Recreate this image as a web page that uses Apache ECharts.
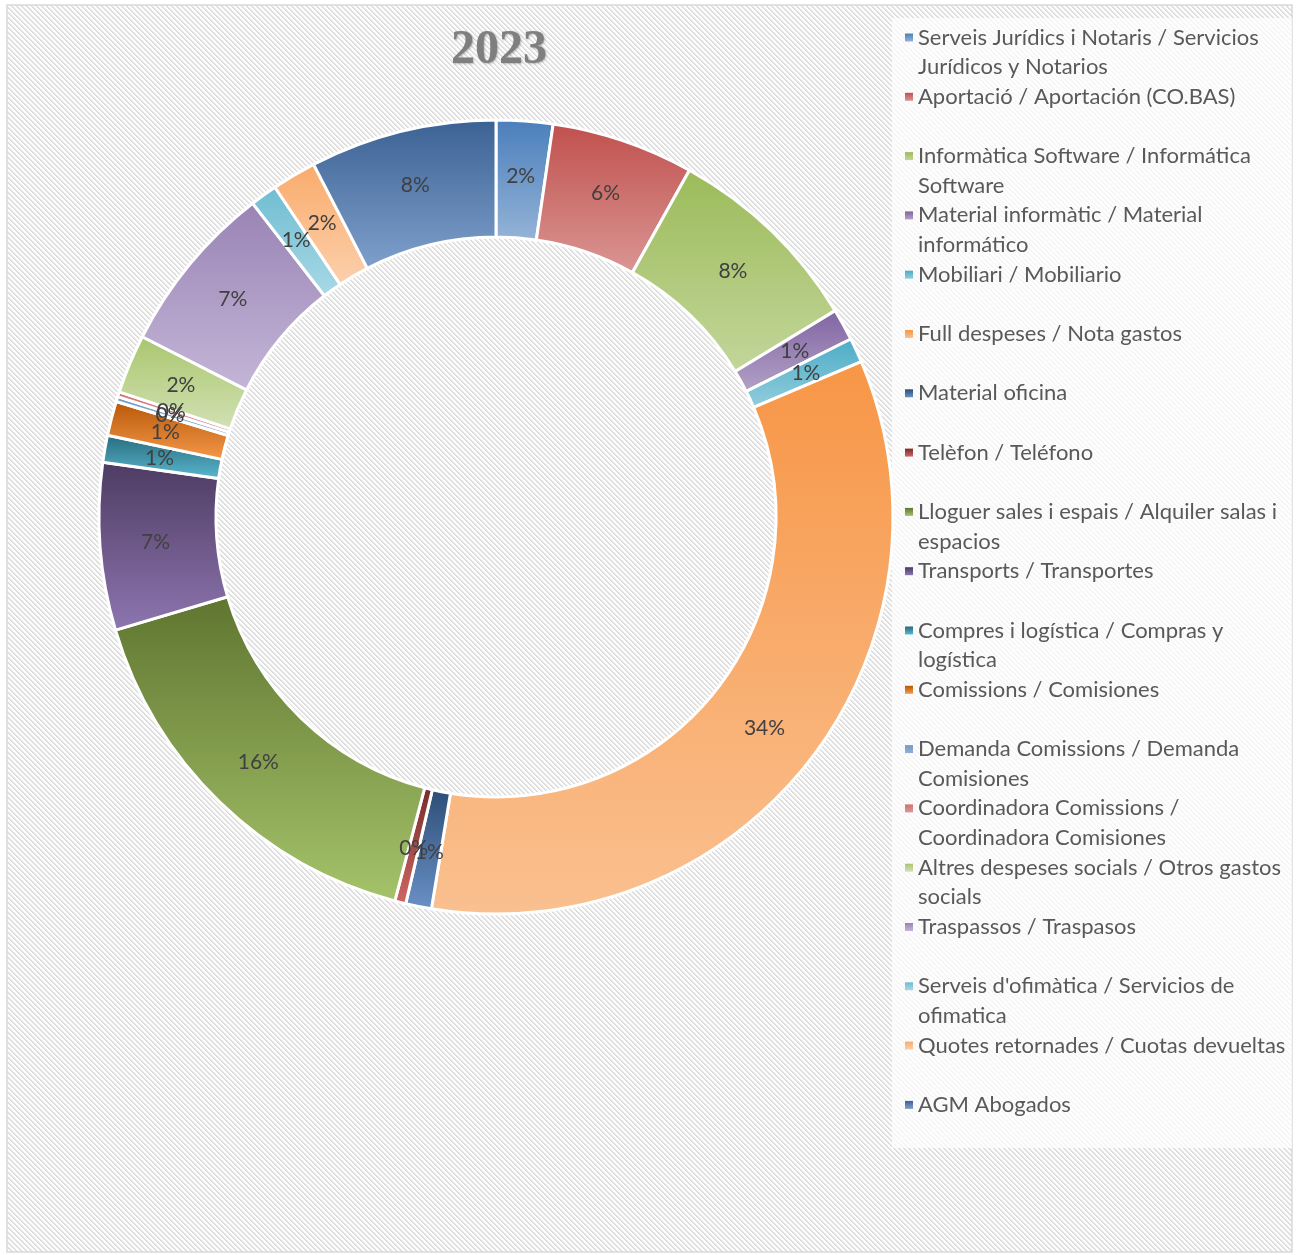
<!DOCTYPE html>
<html>
<head>
<meta charset="utf-8">
<script src="https://cdn.jsdelivr.net/npm/echarts@6/dist/echarts.min.js"></script>
<style>
  html, body { margin: 0; padding: 0; background: #fff; }
  #main { width: 1298px; height: 1255px; }
</style>
</head>
<body>
<div id="main"></div>
<script>
// categories (line breaks as in the legend)
var categories = [
  'Serveis Jurídics i Notaris / Servicios\nJurídicos y Notarios',
  'Aportació / Aportación (CO.BAS)',
  'Informàtica Software / Informática\nSoftware',
  'Material informàtic / Material\ninformático',
  'Mobiliari / Mobiliario',
  'Full despeses / Nota gastos',
  'Material oficina',
  'Telèfon / Teléfono',
  'Lloguer sales i espais / Alquiler salas i\nespacios',
  'Transports / Transportes',
  'Compres i logística / Compras y\nlogística',
  'Comissions / Comisiones',
  'Demanda Comissions / Demanda\nComisiones',
  'Coordinadora Comissions /\nCoordinadora Comisiones',
  'Altres despeses socials / Otros gastos\nsocials',
  'Traspassos / Traspasos',
  "Serveis d'ofimàtica / Servicios de\nofimatica",
  'Quotes retornades / Cuotas devueltas',
  'AGM Abogados'
];
// share of 2023 spending, in %
var values = [2.3, 5.8, 8.2, 1.3, 1.0, 34.0, 1.05, 0.45, 16.3, 6.8, 1.1, 1.4, 0.2, 0.2, 2.4, 7.0, 1.1, 1.8, 7.6];

// gradient colours, top -> bottom
var palette = [
  ['#4a7ebb', '#95b3d7'], ['#c0504d', '#da9694'], ['#9bbb59', '#c3d69b'],
  ['#8064a2', '#b3a2c7'], ['#4bacc6', '#93cddd'], ['#f79646', '#fac090'],
  ['#2c4d75', '#6a91c8'], ['#772c2a', '#d06664'], ['#5f7530', '#a5c36a'],
  ['#4d3b62', '#8e76b0'], ['#276a7c', '#5bb8cf'], ['#b65708', '#f7994a'],
  ['#729aca', '#8fb0d8'], ['#cd7371', '#dd9897'], ['#a9c66d', '#d2e1b5'],
  ['#9983b5', '#c4b6d7'], ['#6fbdd1', '#a9d9e6'], ['#f9ab6b', '#fcd0ad'],
  ['#3b6193', '#7fa0cc']
];

// hatch pattern for the chart area
var pat = document.createElement('canvas');
pat.width = 5; pat.height = 5;
var ctx = pat.getContext('2d');
ctx.fillStyle = '#ffffff';
ctx.fillRect(0, 0, 5, 5);
for (var y = 0; y < 5; y++) {
  ctx.fillStyle = '#d9d9d9';
  ctx.fillRect(y % 5, y, 1, 1);
  ctx.fillStyle = '#e4e4e4';
  ctx.fillRect((y + 1) % 5, y, 1, 1);
  ctx.fillStyle = '#f4f4f4';
  ctx.fillRect((y + 2) % 5, y, 1, 1);
}

var pieData = categories.map(function (name, i) {
  return {
    name: name,
    value: values[i],
    itemStyle: {
      color: new echarts.graphic.LinearGradient(0, 0, 0, 1, [
        { offset: 0, color: palette[i][0] },
        { offset: 1, color: palette[i][1] }
      ])
    }
  };
});

var chartDom = document.getElementById('main');
var myChart = echarts.init(chartDom, null, { renderer: 'canvas' });

var option = {
  backgroundColor: '#ffffff',
  animation: false,
  graphic: [
    {
      type: 'rect', z: -10,
      shape: { x: 7, y: 5, width: 1285, height: 1247 },
      style: { fill: { image: pat, repeat: 'repeat' }, stroke: '#d9d9d9', lineWidth: 1.5 }
    },
    {
      type: 'rect', z: -9,
      shape: { x: 892, y: 18, width: 400, height: 1130 },
      style: { fill: 'rgba(255,255,255,0.7)' }
    }
  ],
  title: {
    text: '2023',
    left: 494,
    top: 22,
    textAlign: 'center',
    textStyle: {
      fontFamily: 'Liberation Serif',
      fontWeight: 'bold',
      fontSize: 48,
      color: '#7f7f7f',
      textShadowColor: 'rgba(0,0,0,0.25)',
      textShadowBlur: 2,
      textShadowOffsetX: 1,
      textShadowOffsetY: 1
    }
  },
  legend: {
    orient: 'vertical',
    left: 905,
    top: -6.9,
    padding: 0,
    itemGap: -29.5,
    itemWidth: 8,
    itemHeight: 8,
    icon: 'rect',
    selectedMode: false,
    itemStyle: { borderWidth: 0 },
    // blank first line so that the marker sits on the first text line
    formatter: function (name) {
      return '\u00a0\n' + (name.indexOf('\n') < 0 ? name + '\n\u00a0' : name);
    },
    textStyle: {
      fontFamily: 'Lato',
      fontSize: 22,
      lineHeight: 29.6,
      color: '#595959'
    }
  },
  series: [{
    type: 'pie',
    center: [496, 517],
    radius: [280, 397],
    startAngle: 90,
    clockwise: true,
    avoidLabelOverlap: false,
    labelLayout: { hideOverlap: false },
    itemStyle: { borderColor: '#ffffff', borderWidth: 3 },
    label: {
      show: true,
      position: 'inside',
      formatter: function (p) { return Math.round(p.percent) + '%'; },
      fontFamily: 'Lato',
      fontSize: 21,
      color: '#404040'
    },
    labelLine: { show: false },
    emphasis: { disabled: true },
    data: pieData
  }]
};

myChart.setOption(option);
window.addEventListener('resize', function () {
  myChart.resize();
});
</script>
</body>
</html>
